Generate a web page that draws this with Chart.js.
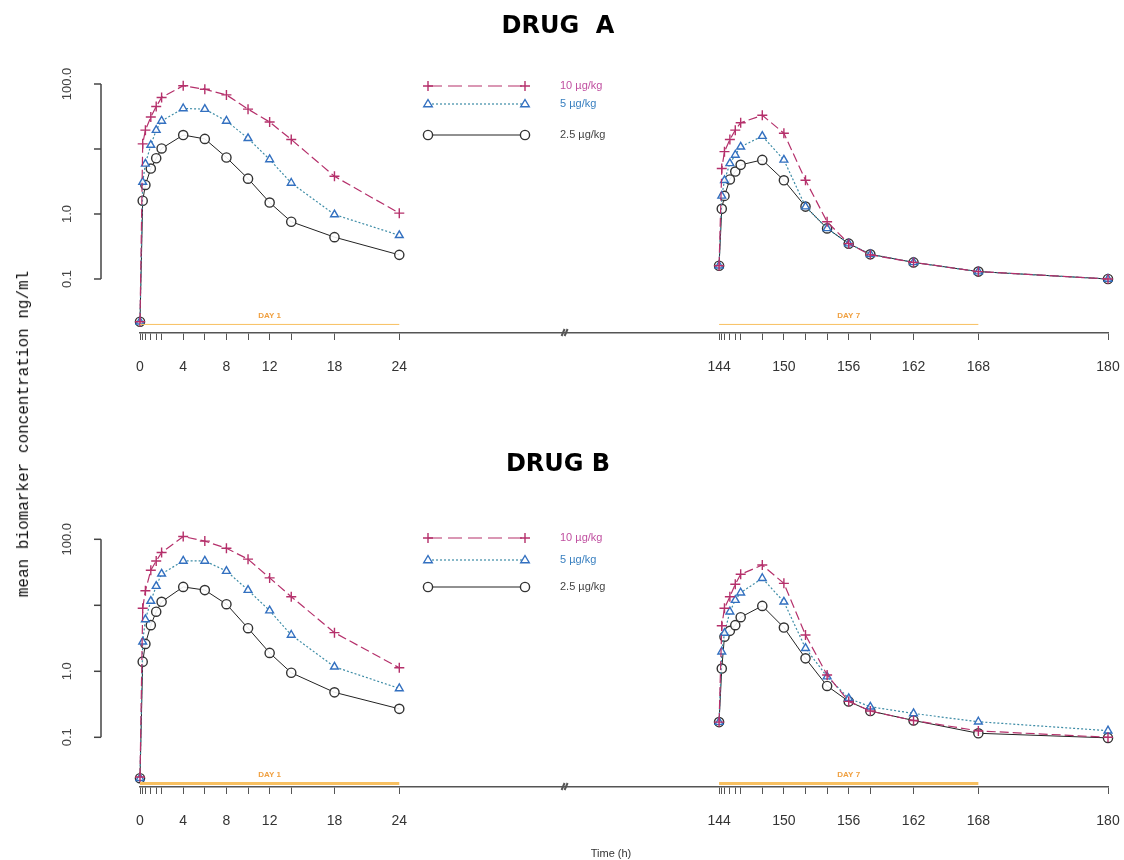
<!DOCTYPE html>
<html>
<head>
<meta charset="utf-8">
<script src="https://cdn.jsdelivr.net/npm/chart.js@4.4.0/dist/chart.umd.min.js"></script>
<style>
body { margin:0; background:#fff; width:1124px; height:860px; position:relative; overflow:hidden; }
canvas { position:absolute; left:0; }
#ytitle { position:absolute; left:24px; top:434px; transform:translate(-50%,-50%) rotate(-90deg); font:16px "Liberation Mono"; white-space:nowrap; color:#111; }
#xtitle { position:absolute; left:611px; top:853px; transform:translate(-50%,-50%); font:11px "Liberation Sans"; color:#333; white-space:nowrap; }
</style>
</head>
<body>
<canvas id="chartA" width="1124" height="430" style="top:0"></canvas>
<canvas id="chartB" width="1124" height="430" style="top:430px"></canvas>
<div id="ytitle">mean biomarker concentration ng/ml</div>
<div id="xtitle">Time (h)</div>
<script>
// sampling times (h)
var timesDay1 = [0, 0.25, 0.5, 1, 1.5, 2, 4, 6, 8, 10, 12, 14, 18, 24];
var timesDay7 = [144, 144.25, 144.5, 145, 145.5, 146, 148, 150, 152, 154, 156, 158, 162, 168, 180];
var labelHours = [0, 4, 8, 12, 18, 24, 144, 150, 156, 162, 168, 180];
var yTicks = [0.1, 1, 10, 100];
var yTickLabels = ['0.1', '1.0', '', '100.0'];
var doses = ['10 \u00b5g/kg', '5 \u00b5g/kg', '2.5 \u00b5g/kg'];
var dayBands = [[0, 24, 'DAY 1'], [144, 168, 'DAY 7']];

// DRUG A
var a10Day1 = [0.022, 12, 19.5, 31, 45, 62, 94, 83, 68, 41, 26, 14, 3.8, 1.03];
var a5Day1  = [0.022, 3.1, 5.9, 11.5, 19.5, 27, 42, 41, 27, 14.6, 6.9, 3.0, 0.98, 0.47];
var a25Day1 = [0.022, 1.6, 2.8, 5.0, 7.2, 10.2, 16.4, 14.3, 7.4, 3.5, 1.5, 0.76, 0.44, 0.235];
var a10Day7 = [0.16, 5.0, 9.1, 14, 19.5, 25.4, 33, 17.5, 3.3, 0.76, 0.35, 0.235, 0.18, 0.13, 0.10];
var a5Day7  = [0.16, 1.9, 3.3, 6.0, 8.1, 10.8, 15.8, 6.8, 1.3, 0.6, 0.35, 0.24, 0.18, 0.13, 0.10];
var a25Day7 = [0.16, 1.2, 1.9, 3.4, 4.5, 5.7, 6.8, 3.3, 1.3, 0.6, 0.35, 0.24, 0.18, 0.13, 0.10];

// DRUG B
var b10Day1 = [0.025, 9.0, 16.6, 34, 47, 63, 110, 94, 73, 50, 26, 13.5, 3.85, 1.13];
var b5Day1  = [0.024, 2.8, 6.1, 11.6, 19.5, 30, 47, 47, 33, 17, 8.3, 3.55, 1.17, 0.55];
var b25Day1 = [0.024, 1.4, 2.6, 5.0, 8.0, 11.3, 19, 17, 10.4, 4.5, 1.9, 0.95, 0.48, 0.27];
var b10Day7 = [0.17, 4.9, 9.0, 13.5, 20.8, 29.5, 40.7, 21.5, 3.55, 0.88, 0.35, 0.25, 0.18, 0.125, 0.10];
var b5Day7  = [0.17, 1.98, 3.8, 8.0, 12, 15.5, 25.7, 11.3, 2.24, 0.83, 0.39, 0.29, 0.23, 0.172, 0.126];
var b25Day7 = [0.17, 1.1, 3.35, 4.1, 5.0, 6.6, 9.8, 4.6, 1.57, 0.6, 0.35, 0.25, 0.18, 0.115, 0.098];

// broken time axis: day 7 is pulled left next to day 1
var SHIFT = 144 - 53.6;
function toAxis(t) { return t > 100 ? t - SHIFT : t; }
function toHours(v) { return Math.round((v > 30 ? v + SHIFT : v) * 100) / 100; }

function pts(day1, day7) {
  var out = timesDay1.map(function (t, i) { return {x: toAxis(t), y: day1[i]}; });
  out.push({x: 39, y: null});
  return out.concat(timesDay7.map(function (t, i) { return {x: toAxis(t), y: day7[i]}; }));
}

var styles = [
  {line: '#b5306b', point: '#b5306b', text: '#c050a0', dash: [9, 4], legDash: [14, 6], shape: 'cross', r: 5, lw: 1.2},
  {line: '#3d8ca6', point: '#3370c0', text: '#3a80c0', dash: [2, 2], legDash: [2, 2], shape: 'triangle', r: 4.5, lw: 1.2},
  {line: '#222', point: '#333', text: '#444', dash: [], legDash: [], shape: 'circle', r: 4.6, lw: 1}
];

function makeDatasets(series) {
  return series.map(function (s, i) {
    var st = styles[i];
    return {
      label: doses[i],
      data: pts(s[0], s[1]),
      borderColor: st.line, borderWidth: st.lw, borderDash: st.dash,
      pointStyle: st.shape, pointRadius: st.r, pointBorderColor: st.point,
      pointBackgroundColor: 'rgba(255,255,255,0.9)', pointBorderWidth: 1.4,
      tension: 0, spanGaps: false, fill: false, clip: false
    };
  });
}

function drawMarker(ctx, shape, x, y, r, color) {
  ctx.save();
  ctx.setLineDash([]);
  ctx.strokeStyle = color; ctx.fillStyle = '#fff'; ctx.lineWidth = 1.4;
  ctx.beginPath();
  if (shape === 'cross') {
    ctx.moveTo(x - r, y); ctx.lineTo(x + r, y); ctx.moveTo(x, y - r); ctx.lineTo(x, y + r);
  } else if (shape === 'triangle') {
    ctx.moveTo(x, y - r); ctx.lineTo(x + r * 0.95, y + r * 0.6); ctx.lineTo(x - r * 0.95, y + r * 0.6); ctx.closePath(); ctx.fill();
  } else {
    ctx.arc(x, y, r, 0, Math.PI * 2); ctx.fill();
  }
  ctx.stroke();
  ctx.restore();
}

var panelDecor = {
  id: 'panelDecor',
  afterDraw: function (chart) {
    var o = chart.options.plugins.panelDecor;
    var ctx = chart.ctx, xs = chart.scales.x, ys = chart.scales.y;
    var bottom = chart.chartArea.bottom;
    ctx.save();
    // title
    ctx.fillStyle = '#000';
    ctx.font = 'bold 24px "DejaVu Sans"';
    ctx.textAlign = 'center'; ctx.textBaseline = 'middle';
    ctx.fillText(o.title, 558, o.titleY);

    // y axis (R style, only across the tick range)
    var ax = 101;
    ctx.strokeStyle = '#444'; ctx.lineWidth = 1.5;
    ctx.beginPath();
    ctx.moveTo(ax, ys.getPixelForValue(0.1)); ctx.lineTo(ax, ys.getPixelForValue(100));
    ctx.stroke();
    ctx.font = '13px "Liberation Sans"'; ctx.fillStyle = '#444';
    yTicks.forEach(function (v, i) {
      var py = ys.getPixelForValue(v);
      ctx.beginPath(); ctx.moveTo(ax - 7, py); ctx.lineTo(ax, py); ctx.stroke();
      if (yTickLabels[i]) {
        ctx.save(); ctx.translate(67, py); ctx.rotate(-Math.PI / 2);
        ctx.fillText(yTickLabels[i], 0, 0); ctx.restore();
      }
    });

    // axis break mark
    var bx = xs.getPixelForValue(39.3);
    ctx.strokeStyle = '#555'; ctx.lineWidth = 2;
    ctx.beginPath();
    ctx.moveTo(bx - 3, bottom + 3); ctx.lineTo(bx, bottom - 4);
    ctx.moveTo(bx, bottom + 3); ctx.lineTo(bx + 3, bottom - 4);
    ctx.stroke();

    // dosing day bars
    dayBands.forEach(function (d) {
      var x0 = xs.getPixelForValue(toAxis(d[0])), x1 = xs.getPixelForValue(toAxis(d[1]));
      var py = ys.getPixelForValue(0.02);
      ctx.strokeStyle = '#f8c060'; ctx.lineWidth = o.dayWidth;
      ctx.beginPath(); ctx.moveTo(x0, py); ctx.lineTo(x1, py); ctx.stroke();
      ctx.fillStyle = '#f0a040'; ctx.font = 'bold 8px "Liberation Sans"';
      ctx.fillText(d[2], (x0 + x1) / 2, py - 9);
    });

    // legend
    styles.forEach(function (st, i) {
      var ly = o.legendY[i];
      ctx.strokeStyle = st.line; ctx.lineWidth = st.lw;
      ctx.setLineDash(st.legDash);
      ctx.beginPath(); ctx.moveTo(428, ly); ctx.lineTo(525, ly); ctx.stroke();
      ctx.setLineDash([]);
      drawMarker(ctx, st.shape, 428, ly, st.r, st.point);
      drawMarker(ctx, st.shape, 525, ly, st.r, st.point);
      ctx.fillStyle = st.text; ctx.font = '11px "Liberation Sans"';
      ctx.textAlign = 'left';
      ctx.fillText(doses[i], 560, ly);
      ctx.textAlign = 'center';
    });
    ctx.restore();
  }
};

function makeChart(id, series, cfg) {
  return new Chart(document.getElementById(id).getContext('2d'), {
    type: 'line',
    data: {datasets: makeDatasets(series)},
    options: {
      responsive: false, animation: false,
      layout: {padding: {top: cfg.top, left: 140, right: 16, bottom: cfg.bottom}},
      plugins: {
        legend: {display: false}, tooltip: {enabled: false},
        panelDecor: {title: cfg.title, titleY: cfg.titleY, legendY: cfg.legendY, dayWidth: cfg.dayWidth}
      },
      scales: {
        x: {
          type: 'linear', min: 0, max: toAxis(180), bounds: 'data',
          afterBuildTicks: function (s) {
            s.ticks = timesDay1.concat(timesDay7).map(function (t) { return {value: toAxis(t)}; });
          },
          afterFit: function (s) { s.height = 40; s.paddingLeft = 0; s.paddingRight = 0; },
          grid: {display: true, drawOnChartArea: false, drawTicks: true, tickLength: 7, color: '#555', lineWidth: 1},
          border: {display: true, color: '#555', width: 1.5},
          ticks: {
            autoSkip: false, maxRotation: 0, minRotation: 0, padding: 19, color: '#333',
            font: {family: 'Liberation Sans', size: 14},
            callback: function (v) { var h = toHours(v); return labelHours.indexOf(h) >= 0 ? String(h) : ''; }
          }
        },
        y: {type: 'logarithmic', min: cfg.yMin, max: cfg.yMax, display: false}
      }
    },
    plugins: [panelDecor]
  });
}

makeChart('chartA', [[a10Day1, a10Day7], [a5Day1, a5Day7], [a25Day1, a25Day7]],
  {title: 'DRUG  A', titleY: 27, top: 70, bottom: 57, yMin: 0.01476, yMax: 164.2, legendY: [86, 104, 135], dayWidth: 1});
makeChart('chartB', [[b10Day1, b10Day7], [b5Day1, b5Day7], [b25Day1, b25Day7]],
  {title: 'DRUG B', titleY: 35, top: 95, bottom: 33, yMin: 0.01766, yMax: 164.7, legendY: [108, 130, 157], dayWidth: 3});
</script>
</body>
</html>
